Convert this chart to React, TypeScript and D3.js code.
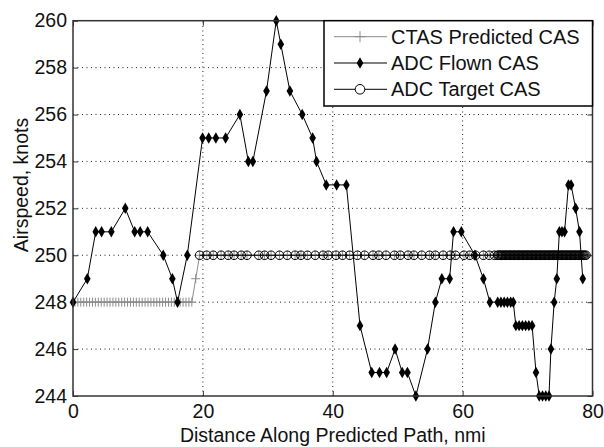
import * as d3 from "d3";
import React, { useEffect, useRef } from "react";

// data (distance in nmi, speed in knots)
const xTicks = [0, 20, 40, 60, 80];
const yTicks = [244, 246, 248, 250, 252, 254, 256, 258, 260];

const flownX = [0, 2.2, 3.5, 4.4, 5.9, 8.05, 9.5, 10.35, 11.5, 13.9, 15.3, 16.1, 17.6, 19.95, 20.9,
  22.0, 23.5, 25.7, 27.0, 27.7, 29.8, 31.3, 32.0, 33.4, 35.3, 36.9, 37.5, 39.0, 40.6, 42.1,
  44.2, 46.0, 47.2, 48.3, 49.6, 50.7, 51.5, 52.8, 54.6, 55.8, 56.8, 58.0, 58.6, 59.8, 61.9,
  63.2, 64.2, 65.4, 65.9, 66.4, 66.9, 67.4, 67.8, 68.2, 68.7, 69.2, 69.7, 70.2, 70.7, 71.3,
  71.8, 72.3, 72.8, 73.3, 73.6, 74.1, 74.5, 74.9, 75.3, 75.7, 76.3, 76.7, 77.4, 78.0, 78.5];
const flownCas = [248, 249, 251, 251, 251, 252, 251, 251, 251, 250, 249, 248, 250, 255, 255,
  255, 255, 256, 254, 254, 257, 260, 259, 257, 256, 255, 254, 253, 253, 253,
  247, 245, 245, 245, 246, 245, 245, 244, 246, 248, 249, 249, 251, 251, 250,
  249, 248, 248, 248, 248, 248, 248, 248, 247, 247, 247, 247, 247, 247, 245,
  244, 244, 244, 244, 246, 248, 249, 251, 251, 251, 253, 253, 252, 251, 249];

const targetX = [19.5, 20.6, 21.6, 22.8, 23.9, 24.8, 25.9, 26.8, 28.6, 29.5, 30.5, 31.8, 33.0,
  34.2, 35.1, 36.1, 37.3, 38.5, 39.3, 40.5, 41.5, 42.6, 43.8, 44.9, 46.2, 47.1, 48.2, 49.5,
  50.4, 51.6, 52.5, 53.7, 54.9, 55.8, 57.0, 58.1, 58.9, 60.2, 61.1, 62.0, 63.2, 64.1, 64.9,
  65.4, 65.6, 65.8, 66.0, 66.2, 66.4, 66.6, 66.8, 67.0, 67.2, 67.4, 67.6, 67.8, 68.0, 68.2,
  68.4, 68.6, 68.8, 69.0, 69.2, 69.4, 69.6, 69.8, 70.0, 70.2, 70.4, 70.6, 70.8, 71.0, 71.2,
  71.4, 71.6, 71.8, 72.0, 72.2, 72.4, 72.6, 72.8, 73.0, 73.2, 73.4, 73.6, 73.8, 74.0, 74.2,
  74.4, 74.6, 74.8, 75.0, 75.2, 75.4, 75.6, 75.8, 76.0, 76.2, 76.4, 76.6, 76.8, 77.0, 77.2,
  77.4, 77.6, 77.8, 78.0, 78.2, 78.4, 78.6, 78.8, 79.0];
const targetCas = 250;

// CTAS prediction: flat 248 segment, one step point, then 250 along the target points
const ctasLowX = [0.3, 0.75, 1.2, 1.65, 2.1, 2.55, 3.0, 3.45, 3.9, 4.35, 4.8, 5.25, 5.7, 6.15,
  6.6, 7.05, 7.5, 7.95, 8.4, 8.85, 9.3, 9.75, 10.2, 10.65, 11.1, 11.55, 12.0, 12.45, 12.9,
  13.35, 13.8, 14.25, 14.7, 15.15, 15.6, 16.05, 16.5, 16.95, 17.4, 17.85, 18.3];
const ctasLowCas = 248;
const ctasStepX = 18.9;
const ctasStepCas = 249;

const W = 604;
const H = 447;
const left = 73, right = 592.5, top = 20.7, bottom = 396;
const font = "'Liberation Sans', Arial, sans-serif";

export default function App() {
  const svgRef = useRef<SVGSVGElement | null>(null);

  useEffect(() => {
    const svg = d3.select(svgRef.current);
    svg.selectAll("*").remove();

    const x = d3.scaleLinear().domain([0, 80]).range([left, right]);
    const y = d3.scaleLinear().domain([244, 260]).range([bottom, top]);

    svg.append("rect").attr("width", W).attr("height", H).attr("fill", "white");

    // dotted grid
    const grid = svg.append("g").attr("stroke", "#222").attr("stroke-width", 1).attr("stroke-dasharray", "1,3.5");
    xTicks.slice(1, -1).forEach((t) => {
      grid.append("line").attr("x1", x(t)).attr("x2", x(t)).attr("y1", bottom).attr("y2", top);
    });
    yTicks.slice(1, -1).forEach((t) => {
      grid.append("line").attr("x1", left).attr("x2", right).attr("y1", y(t)).attr("y2", y(t));
    });

    // axes, ticks pointing inward
    const axStyle = (g: any) => {
      g.select(".domain").remove();
      g.selectAll("line").attr("stroke", "#333");
      g.selectAll("text").attr("font-family", font).attr("font-size", 19.5).attr("fill", "#111");
    };
    svg.append("g").attr("transform", `translate(${left},0)`)
      .call(d3.axisLeft(y).tickValues(yTicks).tickSize(-5).tickPadding(6).tickFormat(d3.format("d")))
      .call(axStyle);
    svg.append("g").attr("transform", `translate(${right},0)`)
      .call(d3.axisRight(y).tickValues(yTicks).tickSize(-5).tickFormat(() => ""))
      .call(axStyle);
    svg.append("g").attr("transform", `translate(0,${bottom})`)
      .call(d3.axisBottom(x).tickValues(xTicks).tickSize(-5).tickPadding(8).tickFormat(d3.format("d")))
      .call(axStyle);
    svg.append("g").attr("transform", `translate(0,${top})`)
      .call(d3.axisTop(x).tickValues(xTicks).tickSize(-5).tickFormat(() => ""))
      .call(axStyle);

    const plot = svg.append("g");
    const lineGen = d3.line<[number, number]>().x((d) => x(d[0])).y((d) => y(d[1]));

    const plusPath = (cx: number, cy: number, s: number) =>
      `M${cx - s},${cy}H${cx + s}M${cx},${cy - s}V${cy + s}`;
    const diamond = d3.symbol().type(d3.symbolDiamond).size(38);

    // CTAS predicted
    const ctas: [number, number][] = [
      ...ctasLowX.map((v) => [v, ctasLowCas] as [number, number]),
      [ctasStepX, ctasStepCas],
      ...targetX.map((v) => [v, targetCas] as [number, number]),
    ];
    plot.append("path").attr("d", lineGen(ctas)).attr("fill", "none").attr("stroke", "#8c8c8c").attr("stroke-width", 1);
    plot.append("g").selectAll("path").data(ctas).join("path")
      .attr("d", (d) => plusPath(x(d[0]), y(d[1]), 4.5))
      .attr("stroke", "#8c8c8c").attr("stroke-width", 1).attr("fill", "none");

    // ADC flown
    const flown: [number, number][] = flownX.map((v, i) => [v, flownCas[i]]);
    plot.append("path").attr("d", lineGen(flown)).attr("fill", "none").attr("stroke", "#000").attr("stroke-width", 1);
    plot.append("g").selectAll("path").data(flown).join("path")
      .attr("d", diamond as any)
      .attr("transform", (d) => `translate(${x(d[0])},${y(d[1])})`)
      .attr("fill", "#000");

    // ADC target
    const target: [number, number][] = targetX.map((v) => [v, targetCas]);
    plot.append("path").attr("d", lineGen(target)).attr("fill", "none").attr("stroke", "#000").attr("stroke-width", 1);
    plot.append("g").selectAll("circle").data(target).join("circle")
      .attr("cx", (d) => x(d[0])).attr("cy", (d) => y(d[1])).attr("r", 4.3)
      .attr("fill", "none").attr("stroke", "#000").attr("stroke-width", 1);

    // box
    svg.append("rect").attr("x", left).attr("y", top).attr("width", right - left).attr("height", bottom - top)
      .attr("fill", "none").attr("stroke", "#333").attr("stroke-width", 1.5);

    // legend
    const lg = svg.append("g");
    lg.append("rect").attr("x", 324).attr("y", top).attr("width", right - 324).attr("height", 106 - top)
      .attr("fill", "white").attr("stroke", "#000").attr("stroke-width", 1.5);
    const items = [
      { label: "CTAS Predicted CAS", color: "#8c8c8c", mark: "plus" },
      { label: "ADC Flown CAS", color: "#000", mark: "diamond" },
      { label: "ADC Target CAS", color: "#000", mark: "circle" },
    ];
    items.forEach((it, i) => {
      const cy = 36.7 + i * 26.3;
      lg.append("line").attr("x1", 334).attr("x2", 387).attr("y1", cy).attr("y2", cy)
        .attr("stroke", it.color).attr("stroke-width", 1);
      if (it.mark === "plus") {
        lg.append("path").attr("d", plusPath(360, cy, 5.5)).attr("stroke", it.color).attr("fill", "none");
      } else if (it.mark === "diamond") {
        lg.append("path").attr("d", diamond as any).attr("transform", `translate(360,${cy})`).attr("fill", "#000");
      } else {
        lg.append("circle").attr("cx", 360).attr("cy", cy).attr("r", 4.8).attr("fill", "white").attr("stroke", "#000");
      }
      lg.append("text").attr("x", 391).attr("y", cy).attr("dy", "0.35em")
        .attr("font-family", font).attr("font-size", 20).attr("fill", "#111").text(it.label);
    });

    // axis labels
    svg.append("text").attr("x", (left + right) / 2).attr("y", 442).attr("text-anchor", "middle")
      .attr("font-family", font).attr("font-size", 19.5).attr("fill", "#111")
      .text("Distance Along Predicted Path, nmi");
    svg.append("text").attr("transform", `translate(28,185) rotate(-90)`).attr("text-anchor", "middle")
      .attr("font-family", font).attr("font-size", 19.5).attr("fill", "#111")
      .text("Airspeed, knots");
  }, []);

  return (
    <svg ref={svgRef} width={W} height={H} viewBox={`0 0 ${W} ${H}`}
      style={{ position: "absolute", left: 0, top: 0 }} />
  );
}
